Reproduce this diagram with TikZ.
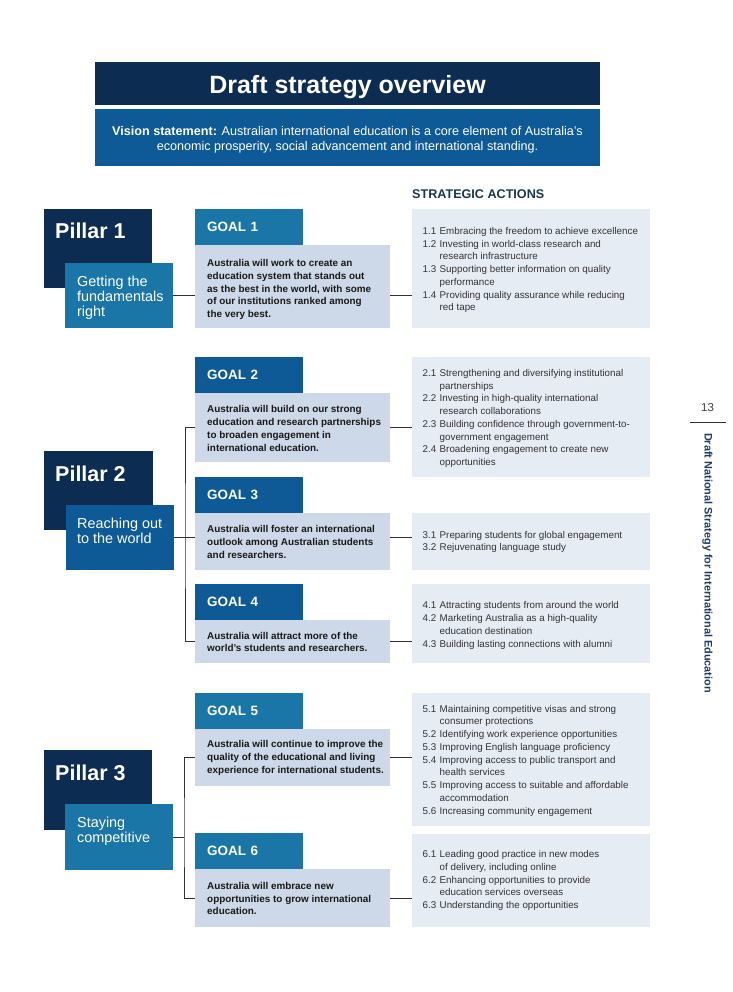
\documentclass[tikz,border=0pt]{standalone}
\usepackage{fontspec}
\setmainfont{Liberation Sans}
\usetikzlibrary{calc}
\definecolor{navy}{HTML}{0C2C52}
\definecolor{midblue}{HTML}{0D5A96}
\definecolor{tealb}{HTML}{1A76A7}
\definecolor{goalbg}{HTML}{CDD8E8}
\definecolor{actbg}{HTML}{E5ECF4}
\definecolor{sahead}{HTML}{1C3553}
\definecolor{linec}{HTML}{333333}
\definecolor{sidec}{HTML}{1D3E66}
\newcommand\num[1]{\makebox[17pt][l]{#1}}
\newcommand\cont{\hspace*{17pt}}
\begin{document}
\begin{tikzpicture}[x=1pt,y=-1pt,
  box/.style={inner sep=0pt, outer sep=0pt, anchor=north west},
  pillarbox/.style={box, fill=navy, minimum width=108pt, minimum height=79pt},
  subbox/.style={box, minimum width=108pt, minimum height=65pt},
  goalhead/.style={box, minimum width=108pt, minimum height=36pt, inner xsep=12pt, text width=84pt, align=left, text=white, font=\fontsize{13.5}{16}\selectfont\bfseries},
  goalbox/.style={box, fill=goalbg, minimum width=195pt},
  actbox/.style={box, fill=actbg, minimum width=238pt},
  pillartxt/.style={anchor=base west, inner sep=0pt, text=white, font=\fontsize{21.5}{24}\selectfont\bfseries},
  subtxt/.style={anchor=north west, inner sep=0pt, align=left, text=white, font=\fontsize{14.4}{15.4}\selectfont},
  goaltxt/.style={anchor=west, inner sep=0pt, align=left, text=black!90, font=\fontsize{9.9}{12.7}\selectfont\bfseries},
  acttxt/.style={anchor=west, inner sep=0pt, align=left, text=black!80, font=\fontsize{9.8}{12.75}\selectfont},
  conn/.style={draw=linec, line width=0.9pt}
]
\useasboundingbox (0,0) rectangle (732,992);
\fill[white] (0,0) rectangle (732,992);

% header
\node[box, fill=navy, minimum width=505pt, minimum height=43pt] (title) at (95,62) {};
\node[anchor=base, inner sep=0pt, text=white, font=\fontsize{25}{28}\selectfont\bfseries] (titlel) at ($(title.center)+(0,10)$) {Draft strategy overview};
\node[box, fill=midblue, minimum width=505pt, minimum height=57pt] (vision) at (95,109) {};
\node[inner sep=0pt, text=white, align=center, font=\fontsize{12.6}{15}\selectfont] (visionl) at ($(vision.center)+(0,2)$) {\textbf{Vision statement:} Australian international education is a core element of Australia’s\\economic prosperity, social advancement and international standing.};
\node[anchor=west, inner sep=0pt, text=sahead, font=\fontsize{12.6}{14}\selectfont\bfseries] (sa) at (412,194) {STRATEGIC ACTIONS};

% ---------- Pillar 1
\node[pillarbox] (p1) at (44,209) {};
\node[subbox, fill=tealb] (p1s) at (65,263) {};
\node[pillartxt] (p1l) at ($(p1.north west)+(11,30)$) {Pillar 1};
\node[subtxt] (p1sl) at ($(p1s.north west)+(12,12.5)$) {Getting the\\fundamentals\\right};
\node[goalhead, fill=tealb] (g1h) at (195,209) {GOAL 1};
\node[goalbox, minimum height=83pt] (g1t) at (195,245) {};
\node[goaltxt] (g1l) at ($(g1t.west)+(12,3)$) {Australia will work to create an\\education system that stands out\\as the best in the world, with some\\of our institutions ranked among\\the very best.};
\node[actbox, minimum height=119pt] (a1) at (412,209) {};
\node[acttxt] (a1l) at ($(a1.west)+(10.5,1.5)$) {\num{1.1}Embracing the freedom to achieve excellence\\\num{1.2}Investing in world-class research and\\\cont research infrastructure\\\num{1.3}Supporting better information on quality\\\cont performance\\\num{1.4}Providing quality assurance while reducing\\\cont red tape};
\draw[conn] (p1s.east) -- (p1s.east -| g1t.west);
\draw[conn] (g1t.east |- p1s.east) -- (a1.west |- p1s.east);

% ---------- Pillar 2
\node[pillarbox, minimum width=109pt] (p2) at (44,451) {};
\node[subbox, fill=midblue] (p2s) at (66,505) {};
\node[pillartxt] (p2l) at ($(p2.north west)+(11,30)$) {Pillar 2};
\node[subtxt] (p2sl) at ($(p2s.north west)+(11,12.5)$) {Reaching out\\to the world};
\node[goalhead, fill=midblue] (g2h) at (195,357) {GOAL 2};
\node[goalbox, minimum height=69pt] (g2t) at (195,393) {};
\node[goaltxt] (g2l) at ($(g2t.west)+(12,1)$) {Australia will build on our strong\\education and research partnerships\\to broaden engagement in\\international education.};
\node[goalhead, fill=midblue] (g3h) at (195,477) {GOAL 3};
\node[goalbox, minimum height=57pt] (g3t) at (195,513) {};
\node[goaltxt] (g3l) at ($(g3t.west)+(12,0.5)$) {Australia will foster an international\\outlook among Australian students\\and researchers.};
\node[goalhead, fill=midblue] (g4h) at (195,584) {GOAL 4};
\node[goalbox, minimum height=43pt] (g4t) at (195,620) {};
\node[goaltxt] (g4l) at ($(g4t.west)+(12,0.5)$) {Australia will attract more of the\\world’s students and researchers.};
\node[actbox, minimum height=120pt] (a2) at (412,357) {};
\node[acttxt] (a2l) at ($(a2.west)+(10.5,1.5)$) {\num{2.1}Strengthening and diversifying institutional\\\cont partnerships\\\num{2.2}Investing in high-quality international\\\cont research collaborations\\\num{2.3}Building confidence through government-to-\\\cont government engagement\\\num{2.4}Broadening engagement to create new\\\cont opportunities};
\node[actbox, minimum height=57pt] (a3) at (412,513) {};
\node[acttxt] (a3l) at ($(a3.west)+(10.5,0.5)$) {\num{3.1}Preparing students for global engagement\\\num{3.2}Rejuvenating language study};
\node[actbox, minimum height=79pt] (a4) at (412,584) {};
\node[acttxt] (a4l) at ($(a4.west)+(10.5,2)$) {\num{4.1}Attracting students from around the world\\\num{4.2}Marketing Australia as a high-quality\\\cont education destination\\\num{4.3}Building lasting connections with alumni};
\coordinate (b2) at ($(p2s.east)+(11,0)$);
\draw[conn] (p2s.east) -- (p2s.east -| g3t.west);
\draw[conn] (g2t.west) -| (b2) |- (g4t.west);
\draw[conn] (g2t.east) -- (g2t.east -| a2.west);
\draw[conn] (g3t.east |- p2s.east) -- (a3.west |- p2s.east);
\draw[conn] (g4t.east) -- (g4t.east -| a4.west);

% ---------- Pillar 3
\node[pillarbox, minimum height=80pt] (p3) at (44,750) {};
\node[subbox, fill=tealb, minimum height=66pt] (p3s) at (65,804) {};
\node[pillartxt] (p3l) at ($(p3.north west)+(11,30)$) {Pillar 3};
\node[subtxt] (p3sl) at ($(p3s.north west)+(12,12.5)$) {Staying\\competitive};
\node[goalhead, fill=tealb] (g5h) at (195,693) {GOAL 5};
\node[goalbox, minimum height=57pt] (g5t) at (195,729) {};
\node[goaltxt] (g5l) at ($(g5t.west)+(12,0.5)$) {Australia will continue to improve the\\quality of the educational and living\\experience for international students.};
\node[goalhead, fill=tealb] (g6h) at (195,833) {GOAL 6};
\node[goalbox, minimum height=58pt] (g6t) at (195,869) {};
\node[goaltxt] (g6l) at ($(g6t.west)+(12,0.5)$) {Australia will embrace new\\opportunities to grow international\\education.};
\node[actbox, minimum height=133pt] (a5) at (412,693) {};
\node[acttxt] (a5l) at ($(a5.west)+(10.5,1)$) {\num{5.1}Maintaining competitive visas and strong\\\cont consumer protections\\\num{5.2}Identifying work experience opportunities\\\num{5.3}Improving English language proficiency\\\num{5.4}Improving access to public transport and\\\cont health services\\\num{5.5}Improving access to suitable and affordable\\\cont accommodation\\\num{5.6}Increasing community engagement};
\node[actbox, minimum height=93pt] (a6) at (412,834) {};
\node[acttxt] (a6l) at ($(a6.west)+(10.5,0)$) {\num{6.1}Leading good practice in new modes\\\cont of delivery, including online\\\num{6.2}Enhancing opportunities to provide\\\cont education services overseas\\\num{6.3}Understanding the opportunities};
\coordinate (b3) at ($(p3s.east)+(11,0)$);
\draw[conn] (p3s.east) -- (b3);
\draw[conn] (g5t.west) -| (b3) |- (g6t.west);
\draw[conn] (g5t.east) -- (g5t.east -| a5.west);
\draw[conn] (g6t.east) -- (g6t.east -| a6.west);

% ---------- side
\node[inner sep=0pt, text=black!75, font=\fontsize{11.5}{13}\selectfont] (pg) at (707.5,408) {13};
\coordinate (s1) at (690,422);
\coordinate (s2) at (726,422);
\draw[draw=linec, line width=0.8pt] (s1) -- (s2);
\node[inner sep=0pt, rotate=-90, text=sidec, font=\fontsize{10.9}{12}\selectfont\bfseries] (side) at (707.5,563) {Draft National Strategy for International Education};
\end{tikzpicture}
\end{document}
